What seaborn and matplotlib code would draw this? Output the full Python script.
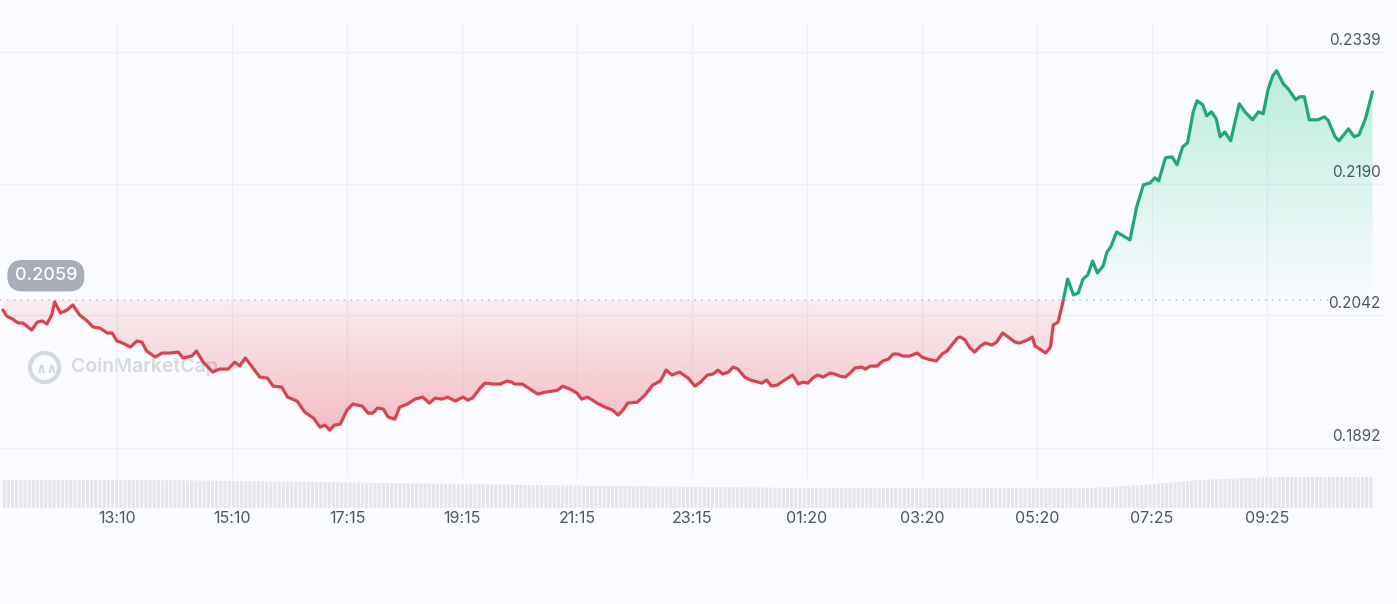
import numpy as np
import matplotlib
matplotlib.use("Agg")
import matplotlib.pyplot as plt
import seaborn as sns
from matplotlib.patches import Polygon, Rectangle
from matplotlib.colors import to_rgb

# ---------------- data ----------------
minutes = [
    1, 5, 11, 17, 22, 31, 37, 42, 47, 52, 55, 61, 68, 74, 81, 89, 95, 102, 110, 115,
    120, 126, 134, 141, 146, 151, 160, 167, 175, 184, 189, 198, 203, 210, 220, 227, 236, 243, 248, 254,
    262, 269, 277, 283, 292, 298, 308, 316, 325, 332, 337, 342, 347, 353,
    360, 366, 376, 382, 387, 392, 398, 403, 410, 415, 423, 431, 439, 446, 452, 459, 465, 473, 481, 486,
    491, 499, 504, 512, 520, 527, 532, 535, 543, 551, 559, 567, 575, 580, 585, 593, 600, 605, 611, 621,
    629, 637, 643, 648, 653, 663, 671, 679, 687, 693, 699, 707,
    716, 723, 729, 736, 742, 747, 752, 758, 763, 768, 775, 781, 789, 793, 798, 803, 809, 815, 820, 825,
    831, 836, 841, 846, 851, 857, 864, 869, 874, 880, 885, 890, 897, 901, 906, 913, 919, 925, 930, 935,
    940, 947, 955, 960, 966, 975, 981, 986, 991, 997, 1000, 1005, 1010, 1015, 1021, 1026, 1033, 1038, 1044, 1050,
    1057, 1062, 1070, 1075, 1078, 1083, 1089, 1094, 1097, 1102, 1107,
    1112, 1118, 1123, 1128, 1133, 1138, 1143, 1149, 1153, 1157, 1163, 1177, 1184, 1191, 1198, 1203, 1207, 1214, 1221, 1226,
    1232, 1237, 1243, 1247, 1253, 1257, 1262, 1267, 1271, 1276, 1282, 1291, 1297, 1305, 1311, 1316, 1321, 1326, 1330, 1337,
    1342, 1350, 1354, 1359, 1364, 1373, 1380, 1384, 1391, 1395, 1405, 1411, 1416, 1423, 1430,
]
price = [
    0.20477, 0.20409, 0.20375, 0.20330, 0.20330, 0.20251, 0.20341, 0.20353, 0.20319, 0.20421,
    0.20567, 0.20443, 0.20477, 0.20534, 0.20421, 0.20353, 0.20285, 0.20274, 0.20217, 0.20217,
    0.20127, 0.20104, 0.20059, 0.20127, 0.20115, 0.20014, 0.19946, 0.19991, 0.19991, 0.20002,
    0.19935, 0.19957, 0.20014, 0.19889, 0.19776, 0.19810, 0.19810, 0.19889, 0.19844, 0.19935,
    0.19822, 0.19720, 0.19709, 0.19618, 0.19607, 0.19494, 0.19449, 0.19324, 0.19257, 0.19155,
    0.19178, 0.19121, 0.19178, 0.19189,
    0.19347, 0.19415, 0.19392, 0.19313, 0.19313, 0.19370, 0.19358, 0.19268, 0.19245, 0.19381,
    0.19415, 0.19471, 0.19494, 0.19426, 0.19483, 0.19471, 0.19494, 0.19449, 0.19494, 0.19460,
    0.19483, 0.19596, 0.19652, 0.19641, 0.19641, 0.19675, 0.19663, 0.19641, 0.19641, 0.19584,
    0.19528, 0.19550, 0.19562, 0.19573, 0.19618, 0.19584, 0.19539, 0.19471, 0.19494, 0.19426,
    0.19381, 0.19347, 0.19291, 0.19347, 0.19426, 0.19437, 0.19517, 0.19630, 0.19675, 0.19799,
    0.19743, 0.19776,
    0.19709, 0.19618, 0.19663, 0.19743, 0.19754, 0.19799, 0.19754, 0.19776, 0.19833, 0.19810,
    0.19720, 0.19686, 0.19663, 0.19652, 0.19686, 0.19618, 0.19630, 0.19675, 0.19709, 0.19743,
    0.19641, 0.19663, 0.19652, 0.19709, 0.19743, 0.19720, 0.19765, 0.19754, 0.19731, 0.19720,
    0.19765, 0.19822, 0.19833, 0.19810, 0.19844, 0.19844, 0.19901, 0.19923, 0.19980, 0.19980,
    0.19957, 0.19957, 0.19991, 0.19946, 0.19923, 0.19901, 0.19980, 0.20014, 0.20082, 0.20161,
    0.20172, 0.20138, 0.20048, 0.20002, 0.20070, 0.20104, 0.20082, 0.20115, 0.20217, 0.20172,
    0.20115, 0.20104, 0.20138, 0.20172, 0.20070, 0.20036, 0.19991, 0.20059, 0.20308, 0.20341,
    0.20567,
    0.20827, 0.20647, 0.20669, 0.20827, 0.20873, 0.21031, 0.20895, 0.20974, 0.21132, 0.21189,
    0.21358, 0.21268, 0.21641, 0.21890, 0.21912, 0.21969, 0.21935, 0.22195, 0.22206, 0.22116,
    0.22319, 0.22364, 0.22714, 0.22839, 0.22794, 0.22669, 0.22714, 0.22635, 0.22432, 0.22488,
    0.22387, 0.22805, 0.22714, 0.22624, 0.22714, 0.22692, 0.22963, 0.23121, 0.23178, 0.23031,
    0.22974, 0.22850, 0.22884, 0.22884, 0.22624, 0.22624, 0.22658, 0.22613, 0.22432, 0.22387,
    0.22522, 0.22432, 0.22455, 0.22647, 0.22940,
]
base_price = 0.2059

tick_minutes = [120, 240, 360, 480, 600, 720, 840, 960, 1080, 1200, 1320]
tick_labels = ["13:10", "15:10", "17:15", "19:15", "21:15", "23:15",
               "01:20", "03:20", "05:20", "07:25", "09:25"]
grid_prices = [0.2339, 0.2190, 0.2042, 0.1892]
grid_labels = ["0.2339", "0.2190", "0.2042", "0.1892"]

vol_minutes = [1, 154, 323, 467, 624, 728, 833, 989, 1139, 1191, 1251, 1330, 1431]
volume = [2.8, 2.8, 2.6, 2.4, 2.2, 2.1, 2.0, 2.0, 2.0, 2.3, 2.8, 3.1, 3.1]

# ---------------- style ----------------
BG = "#f9fbfe"
RED = "#d8434f"
GREEN = "#1fa877"
GRID = "#eceff4"
TXT = "#4f5562"

sns.set_theme(style="white")
plt.rcParams["font.family"] = ["Inter", "DejaVu Sans"]
plt.rcParams["hatch.linewidth"] = 0.7
plt.rcParams["hatch.color"] = "white"

W, H = 1397, 604
fig = plt.figure(figsize=(W / 100, H / 100), dpi=100, facecolor=BG)

ax = fig.add_axes([0, 1 - 478 / H, 1383 / W, 455 / H])
axv = fig.add_axes([0, 1 - 508 / H, 1383 / W, 32 / H], sharex=ax)
for a in (ax, axv):
    a.set_facecolor("none")
    for s in a.spines.values():
        s.set_visible(False)

x = np.array(minutes, dtype=float)
y = np.array(price, dtype=float)

y_lo = base_price - 178 * 0.00011288
y_hi = base_price + 277 * 0.00011288
x_lo, x_hi = -2, 1441


def gradient_area(xs, ys, base, far, rgb, a_base, a_far):
    verts = np.column_stack([np.r_[xs[0], xs, xs[-1]], np.r_[base, ys, base]])
    poly = Polygon(verts, closed=True, facecolor="none", edgecolor="none",
                   transform=ax.transData)
    ax.add_patch(poly)
    n = 256
    lo, hi = min(base, far), max(base, far)
    t = np.linspace(0, 1, n)
    if far < base:
        alpha = a_far + (a_base - a_far) * t
    else:
        alpha = a_base + (a_far - a_base) * t
    grad = np.zeros((n, 1, 4))
    grad[:, 0, :3] = rgb
    grad[:, 0, 3] = alpha
    im = ax.imshow(grad, extent=[xs[0], xs[-1], lo, hi], origin="lower",
                   aspect="auto", zorder=1, interpolation="bilinear")
    im.set_clip_path(poly)


gradient_area(x, np.minimum(y, base_price), base_price, y.min(),
              to_rgb("#ea3943"), 0.07, 0.32)
gradient_area(x, np.maximum(y, base_price), base_price, y.max(),
              to_rgb("#16c784"), 0.0, 0.27)

# grid
ax.set_xticks(tick_minutes)
ax.set_yticks(grid_prices)
ax.tick_params(labelbottom=False, labelleft=False, length=0)
ax.grid(True, color=GRID, linewidth=1.0, zorder=0)
ax.set_axisbelow(True)

# baseline dotted
ax.plot([x_lo, 1386], [base_price, base_price], color="#b9bdc6",
        linestyle=(0, (1, 3.5)), linewidth=1.1, zorder=2)

# price line, coloured by side of baseline
sns.lineplot(x=x, y=y, ax=ax, color=RED, linewidth=2.3, estimator=None, zorder=4)
red_line = ax.lines[-1]
sns.lineplot(x=x, y=y, ax=ax, color=GREEN, linewidth=2.3, estimator=None, zorder=4)
green_line = ax.lines[-1]
red_line.set_clip_path(Rectangle((x_lo, y_lo - 1), x_hi - x_lo, base_price - y_lo + 1,
                                 transform=ax.transData))
green_line.set_clip_path(Rectangle((x_lo, base_price), x_hi - x_lo, 1,
                                   transform=ax.transData))
red_line.set_solid_joinstyle("round")
green_line.set_solid_joinstyle("round")

ax.set_xlim(x_lo, x_hi)
ax.set_ylim(y_lo, y_hi)
ax.set_xlabel("")
ax.set_ylabel("")

# y labels
for p, lab in zip(grid_prices, grid_labels):
    ax.annotate(lab, xy=(1, p), xycoords=("axes fraction", "data"),
                xytext=(-1.5, 3), textcoords="offset points",
                ha="right", va="bottom", fontsize=11, color=TXT, zorder=6)

# base price pill
ax.annotate(f"{base_price:.4f}", xy=(0, base_price), xycoords=("axes fraction", "data"),
            xytext=(33, 17.5), textcoords="offset points", ha="center", va="center",
            color="white", fontsize=13, fontweight="medium", zorder=7,
            bbox=dict(boxstyle="round,pad=0.4,rounding_size=0.85", fc="#a9adb7", ec="none"))

# watermark
ax.plot([44 / 1383], [(455 - 367 + 23) / 455], marker="o", markersize=21, mfc="none",
        mec="#d5d8de", mew=3, transform=ax.transAxes, zorder=0.5)
ax.text(36 / 1383, (455 - 369 + 23) / 455, "\u2227\u2227", transform=ax.transAxes, fontsize=10,
        color="#d5d8de", va="center", ha="left", fontweight="bold", zorder=0.5)
ax.text(71 / 1383, (455 - 367 + 23) / 455, "CoinMarketCap", transform=ax.transAxes,
        fontsize=14, color="#d5d8de", va="center", ha="left", fontweight="semibold",
        zorder=0.5)

# volume
axv.fill_between(vol_minutes, 0, volume, facecolor="#e4e6ec", edgecolor="white",
                 hatch="||||", linewidth=0, zorder=2)
axv.set_ylim(0, 3.2)
axv.set_yticks([])
axv.set_xticks(tick_minutes)
axv.set_xticklabels(tick_labels)
axv.tick_params(axis="x", length=0, pad=2, labelsize=11.5, labelcolor=TXT)
axv.set_xlim(x_lo, x_hi)

fig.savefig("out.png", dpi=100, facecolor=BG)
